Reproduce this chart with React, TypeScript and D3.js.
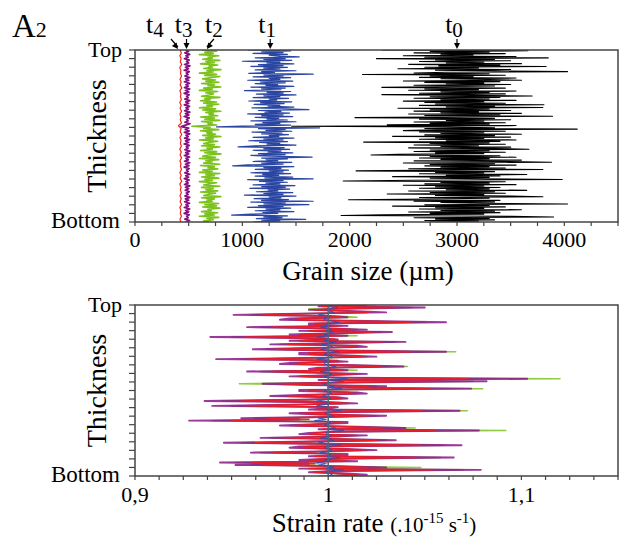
import React from 'react';
import * as d3 from 'd3';

// ---------- Grain size (µm), read top -> bottom ----------
const grainT0 = [
  2300,3660,2750,3300,2600,3450,2850,3150,2500,3550,2700,3850,2250,3350,2800,3500,2650,3250,2900,3600,
  2550,3400,2830,3830,2700,3200,2450,3500,2800,3350,4030,2900,2600,3300,2120,3450,2750,3150,2650,3550,
  2850,3300,3600,2500,3400,2700,3250,2900,3500,2600,3350,2800,2300,3450,2700,3200,2550,3550,2850,3300,
  2650,3450,2300,3150,3700,2750,3400,2600,3300,2850,3550,2500,3250,2700,3450,2800,3810,2650,3350,2900,
  3800,2450,3300,2750,3500,2600,3200,2850,3600,2550,3400,2700,3890,2800,2050,3350,2650,3500,2900,3250,
  2600,3450,2750,3300,2350,3550,1460,2900,3350,2700,4120,2800,2500,3450,2650,3250,2850,3600,2700,3350,
  2400,3500,2800,3250,2650,3550,2900,3400,2130,3300,2750,3450,2600,3200,2850,3500,2550,3350,3670,2750,
  3300,2600,3450,2800,3250,2450,2200,3400,2750,3550,2650,3300,2850,3600,2600,3450,3880,2500,3350,2750,
  3550,2700,3300,2850,3450,2550,3800,2650,2060,3350,2800,3250,2650,3650,2900,3400,2400,3300,2750,3200,
  3980,2600,1940,3450,2850,3300,2700,3550,2500,3250,2800,3400,2650,3300,2900,3650,2550,3350,2750,3450,
  2350,3250,2800,3500,3800,2650,3300,2750,1990,3400,2600,3350,2850,3200,4030,2700,3300,2400,3450,2800,
  3250,2650,3600,2850,3350,2550,3400,2750,3250,2300,1920,3500,3900,2600,3300,2800,3350,2700,3200,2750,
];
const grainT1 = [
  1050,1450,1180,1380,1100,1420,1250,1350,1530,1120,1400,1200,1460,1000,1350,1230,1480,1150,1380,1080,
  1420,1200,1350,1120,1500,1180,1300,1060,1660,1200,1380,1100,1450,1250,1350,1050,1470,1170,1400,1120,
  1330,1220,1480,1080,1400,1180,1360,1020,1450,1230,1380,1130,1500,1200,1350,1100,1430,1250,1320,1060,
  1460,1170,1390,1110,1350,1240,1480,1090,1400,1620,1150,1360,1210,1440,1050,1380,1180,1470,1120,1340,
  1230,1420,1080,1500,1190,1350,1120,1450,1000,760,1720,1150,1400,1220,1460,1090,1370,1180,1430,1250,
  1340,1100,1480,1200,1380,1060,1420,1160,1350,1230,1500,1120,960,1390,1200,1440,1100,1360,1240,1470,
  1150,1400,1080,1350,1650,1180,1420,1220,1330,1100,1460,1180,1380,1050,910,1480,1200,1360,1120,1430,
  1250,1380,1080,1450,1190,1340,1120,1470,1210,1660,1050,1380,1160,1420,1220,1350,1100,1490,1180,1400,
  1070,1440,1240,1330,1130,1470,1200,1380,1020,1500,1250,1360,1110,1430,1180,1660,1080,1400,1200,1620,
  1150,1380,1050,1450,1220,1350,1120,1480,1190,1330,1080,900,1420,1200,1370,1130,1590,1180,1350,1100,
];
const grainT2 = [
  620,760,650,730,600,780,680,720,630,790,660,740,610,770,690,720,640,800,670,730,
  600,760,650,790,700,630,750,660,780,620,740,680,800,640,720,600,770,660,730,690,
  620,790,650,700,610,760,640,780,670,720,600,750,630,800,660,730,690,770,610,740,
  650,790,620,720,680,760,530,700,640,780,610,720,670,750,630,800,660,730,600,770,
  690,640,740,620,790,670,720,610,760,650,800,680,630,750,600,780,660,720,640,790,
  610,740,680,770,630,720,600,790,660,740,620,780,650,720,600,760,680,640,790,620,
  730,660,770,610,750,690,640,800,620,740,670,720,600,780,650,760,630,790,680,710,
  620,770,650,740,600,780,670,730,640,690,
];
const grainT3 = [
  470,500,465,510,475,495,460,505,480,500,462,512,470,498,458,505,478,495,465,510,
  472,500,460,508,475,497,462,510,470,502,458,505,480,495,465,510,472,500,460,508,
  475,497,462,510,470,502,458,505,480,495,465,512,470,430,500,468,505,460,510,475,
  495,462,508,470,500,458,505,478,495,465,510,472,500,460,508,475,497,462,510,470,
  502,458,505,480,495,465,510,472,500,460,505,475,495,462,510,470,500,468,505,478,
  495,465,510,470,500,462,508,475,497,460,510,472,500,458,505,480,495,465,508,470,
];
const grainT4 = [
  420,432,418,430,422,435,417,428,424,433,419,430,421,436,418,429,423,432,417,431,
  420,434,419,428,422,433,405,430,421,435,418,429,423,432,417,431,420,434,419,428,
  424,433,418,430,421,436,417,429,423,432,419,431,420,434,418,428,422,433,419,427,
];

// ---------- Strain rate (.10^-15 s^-1), read top -> bottom ----------
const strainT0 = [1, 1];
const strainT1 = [
  1.002,1.0,1.005,1.0,0.999,1.001,1.003,0.999,0.995,1.0,1.001,0.998,0.998,1.002,1.006,0.999,0.999,1.001,0.996,1.0,
  1.002,0.999,1.003,1.0,0.998,1.001,0.994,1.0,1.0,0.998,1.004,1.0,0.997,1.001,1.002,0.999,0.996,1.0,1.006,0.999,
  0.998,1.001,1.002,0.999,0.994,1.0,1.001,0.998,0.998,1.001,1.004,1.0,0.999,1.001,0.996,0.999,1.002,1.0,0.998,1.001,
  1.01,1.0,1.008,1.001,0.997,0.999,1.003,1.0,1.007,0.999,0.998,1.001,1.002,0.999,0.997,1.0,1.001,0.999,0.994,1.0,
  1.001,0.998,0.994,1.0,1.0,0.999,1.007,1.001,0.998,1.0,1.003,1.0,0.995,0.999,0.993,1.001,1.001,0.999,0.998,1.001,
  1.004,1.0,1.008,1.0,0.999,0.999,1.002,1.0,0.996,1.001,1.003,0.999,0.995,1.0,1.007,0.999,0.998,1.001,1.002,1.0,
  0.996,1.001,1.001,0.999,1.006,1.0,0.998,1.001,0.994,0.999,0.995,1.0,1.003,0.999,1.008,1.0,0.999,1.001,1.002,1.0,
];
const strainT2 = [
  1.025,1.0,1.043,0.99,0.995,1.01,1.02,0.99,0.96,1.005,1.015,0.985,0.98,1.015,1.05,0.995,0.995,1.005,0.965,1.0,
  1.015,0.99,1.028,1.0,0.985,1.015,0.95,0.99,1.0,0.985,1.035,1.005,0.975,1.01,1.015,0.995,0.968,1.0,1.066,0.99,
  0.99,1.005,1.02,0.995,0.955,1.005,1.005,0.985,0.98,1.01,1.041,1.0,0.995,1.015,0.965,0.995,1.015,1.005,0.985,1.0,
  1.12,1.0,1.075,1.005,0.954,0.995,1.025,1.005,1.08,0.99,0.99,1.01,1.015,0.995,0.975,1.0,1.005,0.99,0.945,1.005,
  1.01,0.985,0.95,1.0,1.0,0.995,1.072,1.005,0.985,1.0,1.025,0.995,0.962,0.99,0.94,1.005,1.005,0.995,0.98,1.01,
  1.045,1.0,1.092,1.0,0.995,0.99,1.015,1.005,0.97,1.005,1.03,0.995,0.955,1.0,1.06,0.99,0.985,1.005,1.02,1.0,
  0.965,1.005,1.005,0.995,1.058,1.005,0.99,1.01,0.952,0.995,0.96,1.0,1.048,0.99,1.07,1.005,0.995,1.005,1.015,0.995,
];
const strainT3 = [
  1.02,0.995,1.05,1.005,0.99,1.015,1.03,0.985,0.951,1.0,1.01,0.98,0.975,1.02,1.061,0.99,0.99,1.01,0.958,1.0,
  1.02,0.985,1.033,1.005,0.98,1.01,0.939,0.995,1.005,0.98,1.04,1.0,0.97,1.015,1.02,0.99,0.961,1.005,1.061,0.985,
  0.985,1.01,1.025,0.99,0.942,1.0,1.01,0.98,0.975,1.015,1.039,0.995,0.99,1.01,0.958,0.99,1.02,1.0,0.98,1.01,
  1.103,0.995,1.082,1.01,0.966,0.99,1.03,1.0,1.074,0.985,0.985,1.015,1.02,0.99,0.97,1.005,1.01,0.985,0.936,1.0,
  1.015,0.98,0.94,1.005,1.0,0.99,1.068,1.01,0.98,0.995,1.03,1.0,0.955,0.985,0.928,1.01,1.01,0.99,0.975,1.015,
  1.04,0.995,1.078,1.005,0.99,0.985,1.02,1.0,0.965,1.01,1.035,0.99,0.946,1.005,1.069,0.985,0.98,1.01,1.025,0.995,
  0.96,1.01,1.01,0.99,1.065,1.0,0.985,1.015,0.944,0.99,0.952,1.005,1.03,0.985,1.079,1.0,0.99,1.01,1.02,1.0,
];
const strainT4 = [
  1.014,0.997,1.035,1.004,0.993,1.01,1.021,0.99,0.966,1.0,1.007,0.986,0.983,1.014,1.043,0.993,0.993,1.007,0.971,1.0,
  1.014,0.99,1.023,1.004,0.986,1.007,0.957,0.997,1.004,0.986,1.028,1.0,0.979,1.01,1.014,0.993,0.973,1.004,1.043,0.99,
  0.99,1.007,1.018,0.993,0.959,1.0,1.007,0.986,0.983,1.01,1.027,0.997,0.993,1.007,0.971,0.993,1.014,1.0,0.986,1.007,
  1.072,0.997,1.057,1.007,0.976,0.993,1.021,1.0,1.052,0.99,0.99,1.01,1.014,0.993,0.979,1.004,1.007,0.99,0.955,1.0,
  1.011,0.986,0.958,1.004,1.0,0.993,1.048,1.007,0.986,0.997,1.021,1.0,0.969,0.99,0.95,1.007,1.007,0.993,0.983,1.01,
  1.028,0.997,1.055,1.004,0.993,0.99,1.014,1.0,0.976,1.007,1.025,0.993,0.962,1.004,1.048,0.99,0.986,1.007,1.018,0.997,
  0.972,1.007,1.007,0.993,1.046,1.0,0.99,1.01,0.961,0.993,0.966,1.004,1.021,0.99,1.055,1.0,0.993,1.007,1.014,1.0,
];

const grainTicks = [0, 1000, 2000, 3000, 4000];
const grainTickLabels = ['0', '1000', '2000', '3000', '4000'];
const strainTicks = [0.9, 1, 1.1];
const strainTickLabels = ['0,9', '1', '1,1'];
const seriesNames = ['4', '3', '2', '1', '0'];
const arrowValues = [400, 480, 670, 1260, 3000];

const FONT = '"Liberation Serif", "Times New Roman", serif';

const W = 622, H = 542;
const L = 135, R = 618;
const T1 = 50, B1 = 222, T2 = 305, B2 = 476;

export default function App() {
  const x1 = d3.scaleLinear().domain([0, 4500]).range([L, R]);
  const x2 = d3.scaleLinear().domain([0.9, 1.15]).range([L, R]);
  const y1 = d3.scaleLinear().domain([0, 1]).range([T1, B1]);
  const y2 = d3.scaleLinear().domain([0, 1]).range([T2, B2]);

  const mk = (vals: number[], x: any, y: any) =>
    d3.line<number>().x((v) => x(v)).y((_, i) => y(i / (vals.length - 1)))(vals) || '';

  const minor1 = d3.range(0, 4500.1, 250);
  const minor2 = d3.range(0, 20.1, 1).map((k) => 0.9 + k * 0.0125);
  const yt = d3.range(0, 20.1, 1).map((k) => k / 20);

  const topSeries = [
    { v: grainT0, c: '#000000', w: 1.1 },
    { v: grainT1, c: '#2b46a2', w: 1.2 },
    { v: grainT2, c: '#7cc21f', w: 1.6 },
    { v: grainT3, c: '#860f82', w: 1.7 },
    { v: grainT4, c: '#ee2a1e', w: 1.2 },
  ];
  const botSeries = [
    { v: strainT2, c: '#8cc83a', w: 1.5, o: 0.95 },
    { v: strainT3, c: '#8a168a', w: 1.9, o: 0.85 },
    { v: strainT4, c: '#ee1c24', w: 1.4, o: 0.9 },
    { v: strainT1, c: '#2f4fb0', w: 1.1, o: 0.9 },
    { v: strainT0, c: '#5a6278', w: 1.6, o: 1 },
  ];

  const yAxis = (y: any, top: number, bot: number, key: string) => (
    <g key={key}>
      {yt.map((t, i) => (
        <line key={i} x1={L - 6} x2={L} y1={y(t)} y2={y(t)} stroke="#444" strokeWidth={1.2} />
      ))}
      <text x={122} y={top + 7} textAnchor="end" fontSize={22} fontFamily={FONT}>Top</text>
      <text x={120} y={bot + 6} textAnchor="end" fontSize={23} fontFamily={FONT}>Bottom</text>
      <text transform={`translate(106,${(top + bot) / 2}) rotate(-90)`} textAnchor="middle" fontSize={28} fontFamily={FONT}>Thickness</text>
    </g>
  );

  return (
    <svg width={W} height={H} style={{ position: 'absolute', left: 0, top: 0, background: '#fff' }}>
      <defs>
        <clipPath id="c1"><rect x={L} y={T1} width={R - L} height={B1 - T1} /></clipPath>
        <clipPath id="c2"><rect x={L} y={T2} width={R - L} height={B2 - T2} /></clipPath>
      </defs>
      <rect width={W} height={H} fill="#fff" />

      <text x={12} y={37} fontFamily={FONT} fontSize={33}>A<tspan fontSize={22}>2</tspan></text>

      {/* ---------- Top panel ---------- */}
      <g clipPath="url(#c1)">
        {topSeries.map((s, i) => (
          <path key={i} d={mk(s.v, x1, y1)} fill="none" stroke={s.c} strokeWidth={s.w} strokeLinejoin="round" />
        ))}
      </g>
      <rect x={L} y={T1} width={R - L} height={B1 - T1} fill="none" stroke="#444" strokeWidth={1.5} />
      {minor1.map((t, i) => (
        <line key={i} x1={x1(t)} x2={x1(t)} y1={B1} y2={B1 + 4} stroke="#444" strokeWidth={1.2} />
      ))}
      {grainTicks.map((t, i) => (
        <text key={i} x={x1(t)} y={247} textAnchor="middle" fontSize={22} fontFamily={FONT}>{grainTickLabels[i]}</text>
      ))}
      <text x={368} y={280} textAnchor="middle" fontSize={27} fontFamily={FONT}>Grain size (µm)</text>
      {yAxis(y1, T1, B1, 'ya1')}

      {arrowValues.map((v, i) => {
        const tip = x1(v);
        const dx = i === 0 ? -7 : i === 2 ? 7 : 0;
        const lx = i === 0 ? tip - 20 : i === 2 ? tip + 10 : tip;
        const sx = tip + dx;
        const ang = Math.atan2(9, -dx);
        const ah = 6;
        const p1 = [tip - ah * Math.cos(ang) + 3 * Math.sin(ang), T1 - 1 - ah * Math.sin(ang) - 3 * Math.cos(ang)];
        const p2 = [tip - ah * Math.cos(ang) - 3 * Math.sin(ang), T1 - 1 - ah * Math.sin(ang) + 3 * Math.cos(ang)];
        return (
          <g key={i}>
            <line x1={sx} y1={39} x2={tip} y2={T1 - 3} stroke="#000" strokeWidth={1.2} />
            <path d={`M${tip},${T1 - 1}L${p1[0]},${p1[1]}L${p2[0]},${p2[1]}Z`} fill="#000" />
            <text x={lx - 3} y={33} textAnchor="middle" fontSize={26} fontFamily={FONT}>
              t<tspan fontSize={21} dy={4}>{seriesNames[i]}</tspan>
            </text>
          </g>
        );
      })}

      {/* ---------- Bottom panel ---------- */}
      <g clipPath="url(#c2)">
        {botSeries.map((s, i) => (
          <path key={i} d={mk(s.v, x2, y2)} fill="none" stroke={s.c} strokeWidth={s.w} strokeOpacity={s.o} strokeLinejoin="round" />
        ))}
      </g>
      <rect x={L} y={T2} width={R - L} height={B2 - T2} fill="none" stroke="#444" strokeWidth={1.5} />
      {minor2.map((t, i) => (
        <line key={i} x1={x2(t)} x2={x2(t)} y1={B2} y2={B2 + 4} stroke="#444" strokeWidth={1.2} />
      ))}
      {strainTicks.map((t, i) => (
        <text key={i} x={x2(t)} y={502} textAnchor="middle" fontSize={22} fontFamily={FONT}>{strainTickLabels[i]}</text>
      ))}
      <text x={374} y={532} textAnchor="middle" fontSize={27} fontFamily={FONT}>
        Strain rate <tspan fontSize={21}>(.10</tspan>
        <tspan fontSize={15} dy={-9}>-15</tspan>
        <tspan fontSize={21} dy={9}> s</tspan>
        <tspan fontSize={15} dy={-9}>-1</tspan>
        <tspan fontSize={21} dy={9}>)</tspan>
      </text>
      {yAxis(y2, T2, B2, 'ya2')}
    </svg>
  );
}
